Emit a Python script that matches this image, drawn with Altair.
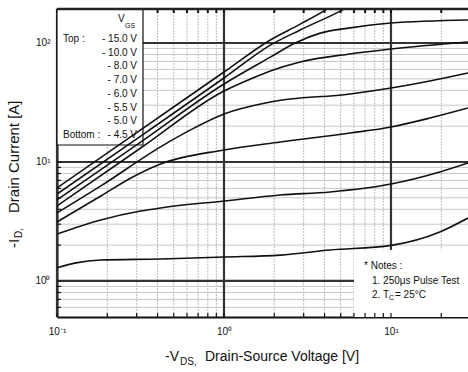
import altair as alt
import pandas as pd

FONT = "Liberation Sans"
W, H = 411, 308
X_DOM = [0.1, 28.92]
Y_DOM = [0.498, 193.0]

# ---- data (Vds [V], Id [A]) ----
vgs = ["-15.0V", "-10.0V", "-8.0V", "-7.0V", "-6.0V", "-5.5V", "-5.0V", "-4.5V"]

vds_15 = [0.1, 0.317, 1.0, 1.894, 2.86, 4.04, 5.0]
id_15 = [6.05, 18.6, 57.0, 106, 144, 189, 230]

vds_10 = [0.1, 0.317, 1.0, 1.894, 2.86, 5.1, 6.1]
id_10 = [5.38, 16.5, 50.8, 96, 128.6, 189, 217]

vds_8 = [0.1, 0.317, 1.0, 1.894, 2.67, 3.77, 5.69, 10.0, 28.9]
id_8 = [4.80, 14.7, 45.2, 76, 100, 121, 134, 147, 156]

vds_7 = [0.1, 0.317, 1.0, 1.44, 1.894, 2.86, 5.69, 10.0, 28.9]
id_7 = [4.27, 13.1, 39.5, 49.8, 58.2, 69.3, 80.9, 89, 102]

vds_6 = [0.1, 0.183, 0.417, 0.631, 1.0, 1.894, 5.69, 10.0, 17.1, 28.9]
id_6 = [3.73, 6.29, 13.4, 18.6, 25.3, 31.9, 37.3, 41.9, 48, 56]

vds_55 = [0.1, 0.183, 0.277, 0.417, 1.0, 2.17, 5.69, 10.0, 17.1, 28.9]
id_55 = [3.13, 5.18, 7.34, 9.62, 12.6, 14.7, 17.5, 19.7, 23.4, 28.4]

vds_5 = [0.1, 0.183, 0.317, 0.417, 1.0, 2.17, 4.32, 10.0, 19.6, 28.9]
id_5 = [2.48, 3.26, 3.87, 4.11, 4.70, 5.28, 5.60, 6.53, 8.24, 9.8]

vds_45 = [0.1, 0.130, 0.183, 0.417, 1.0, 2.17, 4.32, 10.0, 19.6, 28.9]
id_45 = [1.29, 1.42, 1.50, 1.53, 1.59, 1.65, 1.82, 1.99, 2.58, 3.38]

legend_values = ["- 15.0 V", "- 10.0 V", "- 8.0 V", "- 7.0 V",
                 "- 6.0 V", "- 5.5 V", "- 5.0 V", "- 4.5 V"]

x_major = [0.1, 1, 10]
x_minor = [0.2, 0.3, 0.4, 0.5, 0.6, 0.7, 0.8, 0.9, 2, 3, 4, 5, 6, 7, 8, 9, 20]
y_major = [1, 10, 100]
y_minor = [0.6, 0.7, 0.8, 0.9, 2, 3, 4, 5, 6, 7, 8, 9,
           20, 30, 40, 50, 60, 70, 80, 90]
x_tick_text = ["10\u207b\u00b9", "10\u2070", "10\u00b9"]
y_tick_text = ["10\u2070", "10\u00b9", "10\u00b2"]

# ---- build tables ----
series = [(vds_15, id_15), (vds_10, id_10), (vds_8, id_8), (vds_7, id_7),
          (vds_6, id_6), (vds_55, id_55), (vds_5, id_5), (vds_45, id_45)]
rows = []
for name, (xs_, ys_) in zip(vgs, series):
    for i, (a, b) in enumerate(zip(xs_, ys_)):
        rows.append({"vgs": name, "vds": a, "id": b, "order": i})
curves = pd.DataFrame(rows)


def ternary(vals, texts):
    expr = "'" + texts[-1] + "'"
    for v, t in reversed(list(zip(vals[:-1], texts[:-1]))):
        expr = f"datum.value < {v * 3} ? '{t}' : " + expr
    return expr


xs = alt.Scale(type="log", domain=X_DOM, nice=False)
ys = alt.Scale(type="log", domain=Y_DOM, nice=False)
X_AX = alt.Axis(values=x_major, labelExpr=ternary(x_major, x_tick_text), ticks=False,
                grid=False, domain=True, domainColor="#111", domainWidth=2,
                labelFont=FONT, labelFontSize=10, labelColor="#111", labelPadding=9,
                labelFlush=False, labelOverlap=False, title=None)
Y_AX = alt.Axis(values=y_major, labelExpr=ternary(y_major, y_tick_text), ticks=False,
                grid=False, domain=True, domainColor="#111", domainWidth=2,
                labelFont=FONT, labelFontSize=10, labelColor="#111", labelPadding=7,
                labelFlush=False, labelOverlap=False, title=None)


def X(f):
    return alt.X(f, scale=xs, axis=X_AX)


def Y(f):
    return alt.Y(f, scale=ys, axis=Y_AX)


one = pd.DataFrame({"a": [0]})

layers = []
# grid
layers.append(alt.Chart(pd.DataFrame({"y": y_minor})).mark_rule(
    color="#c8c8c8", strokeWidth=1).encode(y=Y("y:Q")))
layers.append(alt.Chart(pd.DataFrame({"x": x_minor})).mark_rule(
    color="#bdbdbd", strokeWidth=1, strokeDash=[2, 1]).encode(x=X("x:Q")))
layers.append(alt.Chart(pd.DataFrame({"y": y_major})).mark_rule(
    color="#333", strokeWidth=2.2).encode(y=Y("y:Q")))
layers.append(alt.Chart(pd.DataFrame({"x": x_major})).mark_rule(
    color="#333", strokeWidth=2.2).encode(x=X("x:Q")))
# left and top ticks
layers.append(alt.Chart(pd.DataFrame({"y": y_minor + y_major})).mark_rule(
    color="#111", strokeWidth=1.2).encode(y=Y("y:Q"), x=alt.value(0), x2=alt.value(4)))
layers.append(alt.Chart(pd.DataFrame({"x": x_minor + x_major})).mark_rule(
    color="#111", strokeWidth=2).encode(x=X("x:Q"), y=alt.value(0), y2=alt.value(4)))
# boxes
layers.append(alt.Chart(one).mark_rect(fill="white", stroke=None).encode(
    x=alt.value(297), x2=alt.value(W), y=alt.value(241), y2=alt.value(H)))
layers.append(alt.Chart(one).mark_rect(fill="white", stroke="#111", strokeWidth=1.2).encode(
    x=alt.value(0), x2=alt.value(86), y=alt.value(0), y2=alt.value(136)))
# bottom ticks
layers.append(alt.Chart(pd.DataFrame({"x": x_minor + x_major})).mark_rule(
    color="#111", strokeWidth=1.2).encode(x=X("x:Q"), y=alt.value(H - 4), y2=alt.value(H)))
# curves
layers.append(alt.Chart(curves).mark_line(
    color="#111", strokeWidth=1.6, clip=True, interpolate="monotone").encode(
    x=X("vds:Q"), y=Y("id:Q"), detail="vgs:N", order="order:Q"))
# top border
layers.append(alt.Chart(one).mark_rule(color="#222", strokeWidth=2.5).encode(
    x=alt.value(0), x2=alt.value(W), y=alt.value(0)))


def txt(s, x, y, size=10, align="left", angle=0, baseline="middle"):
    return alt.Chart(pd.DataFrame({"t": [s]})).mark_text(
        font=FONT, fontSize=size, align=align, baseline=baseline, angle=angle,
        color="#111").encode(text="t:N", x=alt.value(x), y=alt.value(y))


# legend text
layers.append(txt("V", 61, 10, 10))
layers.append(txt("GS", 68, 17, 7))
for i, s in enumerate(legend_values):
    layers.append(txt(s, 80, 30 + 13.7 * i, 10, align="right"))
layers.append(txt("Top :", 6, 30, 10))
layers.append(txt("Bottom :", 6, 30 + 13.7 * 7, 10))
# notes
layers.append(txt("* Notes :", 307, 257, 10))
layers.append(txt("1. 250\u03bcs Pulse Test", 315, 272, 10))
layers.append(txt("2. T", 315, 286, 10))
layers.append(txt("C", 332, 289, 7))
layers.append(txt(" = 25\u00b0C", 338, 286, 10))
# axis titles
layers.append(txt("-V", 108, 352, 14, baseline="alphabetic"))
layers.append(txt("DS,", 123, 356, 10, baseline="alphabetic"))
layers.append(txt("Drain-Source Voltage [V]", 148, 352, 14, baseline="alphabetic"))
layers.append(txt("-I", -38, 239, 15, angle=270, baseline="alphabetic"))
layers.append(txt("D,", -35, 229, 10, angle=270, baseline="alphabetic"))
layers.append(txt("Drain Current [A]", -38, 204, 15, angle=270, baseline="alphabetic"))

chart = alt.layer(*layers).properties(
    width=W, height=H,
    padding={"left": 57, "top": 9, "right": 0, "bottom": 55},
    autosize=alt.AutoSizeParams(type="none"),
    background="white",
).configure_view(stroke=None)

chart.save("out.html", embed_options={"renderer": "svg", "actions": False})
